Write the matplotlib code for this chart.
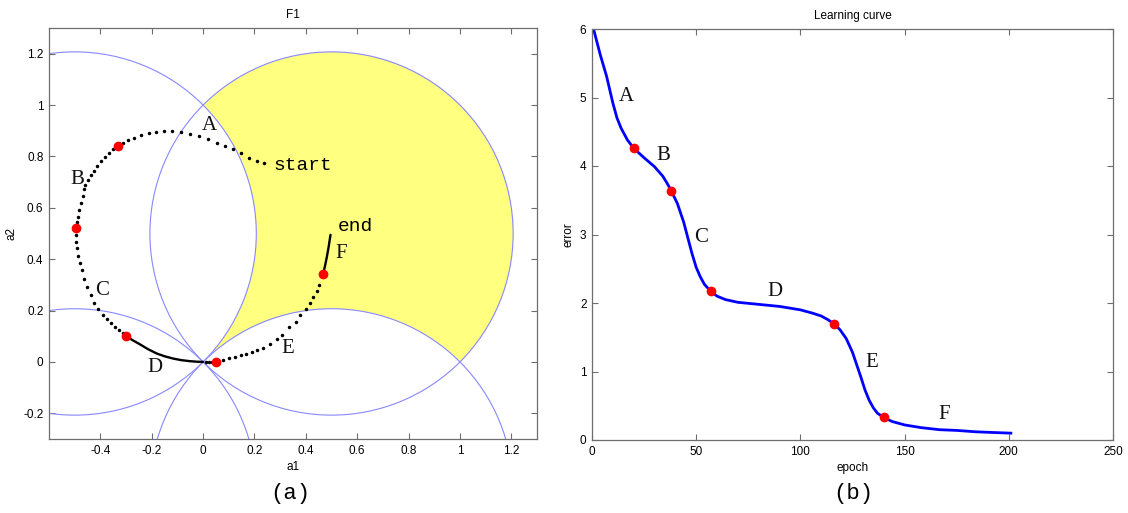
import numpy as np
import matplotlib
matplotlib.use('Agg')
import matplotlib.pyplot as plt
from matplotlib.patches import Circle

# ---- left panel: decision circles + weight trajectory ----
circle_centers = [(-0.5, 0.5), (0.5, 0.5), (-0.5, -0.5), (0.5, -0.5)]
circle_radius = 0.7071
yellow_center = (0.5, 0.5)
white_centers = [(-0.5, 0.5), (0.5, -0.5)]

# sparse dots of the trajectory (one per epoch)
traj_a = [(0.238, 0.774), (0.208, 0.782), (0.179, 0.795), (0.148, 0.812), (0.117, 0.828),
          (0.086, 0.841), (0.054, 0.854), (0.019, 0.867), (-0.016, 0.880), (-0.050, 0.888),
          (-0.085, 0.895), (-0.120, 0.900), (-0.151, 0.899), (-0.184, 0.895), (-0.212, 0.890),
          (-0.243, 0.882), (-0.268, 0.873), (-0.291, 0.864), (-0.311, 0.853)]
traj_b = [(-0.350, 0.828), (-0.365, 0.812), (-0.381, 0.797), (-0.397, 0.781), (-0.412, 0.763),
          (-0.425, 0.745), (-0.437, 0.727), (-0.448, 0.709), (-0.459, 0.690), (-0.463, 0.672),
          (-0.469, 0.646), (-0.477, 0.620), (-0.483, 0.592), (-0.488, 0.566), (-0.492, 0.543)]
traj_c = [(-0.495, 0.495), (-0.495, 0.468), (-0.492, 0.443), (-0.486, 0.413), (-0.479, 0.384),
          (-0.473, 0.356), (-0.464, 0.322), (-0.451, 0.293), (-0.438, 0.261), (-0.424, 0.231),
          (-0.408, 0.205), (-0.391, 0.183), (-0.376, 0.166), (-0.359, 0.150), (-0.343, 0.137),
          (-0.326, 0.124), (-0.313, 0.112)]
traj_d = [(-0.300, 0.101), (-0.275, 0.085), (-0.245, 0.068), (-0.215, 0.050), (-0.181, 0.033),
          (-0.150, 0.022), (-0.116, 0.013), (-0.085, 0.007), (-0.052, 0.003), (-0.025, 0.001),
          (0.0, 0.0)]
traj_d_tail = [(0.012, 0.0), (0.024, 0.0), (0.036, 0.0)]
traj_e = [(0.078, 0.008), (0.102, 0.016), (0.124, 0.021), (0.146, 0.026), (0.167, 0.031),
          (0.189, 0.038), (0.211, 0.046), (0.234, 0.056), (0.260, 0.069), (0.286, 0.089),
          (0.309, 0.105), (0.335, 0.135), (0.360, 0.156), (0.377, 0.183), (0.400, 0.205),
          (0.416, 0.229), (0.428, 0.252), (0.442, 0.277), (0.452, 0.300)]
traj_f = [(0.467, 0.343), (0.475, 0.375), (0.482, 0.410), (0.489, 0.449), (0.496, 0.495)]
red_pts_left = [(-0.330, 0.842), (-0.496, 0.521), (-0.300, 0.101), (0.052, 0.0), (0.467, 0.343)]

left_labels = ['A', 'B', 'C', 'D', 'E', 'F']
left_label_pos = [(0.024, 0.92), (-0.491, 0.711), (-0.394, 0.280), (-0.188, -0.020),
                  (0.330, 0.054), (0.538, 0.423)]
left_xticks = [-0.4, -0.2, 0, 0.2, 0.4, 0.6, 0.8, 1, 1.2]
left_xticklabels = ['-0.4', '-0.2', '0', '0.2', '0.4', '0.6', '0.8', '1', '1.2']
left_yticks = [-0.2, 0, 0.2, 0.4, 0.6, 0.8, 1, 1.2]
left_yticklabels = ['-0.2', '0', '0.2', '0.4', '0.6', '0.8', '1', '1.2']

# ---- right panel: learning curve ----
epochs = [1, 4, 7, 10, 12, 14, 17, 20, 25, 30, 34, 36, 38, 41, 44, 46, 48, 50, 52, 54, 57,
          60, 64, 70, 80, 90, 100, 106, 110, 113, 116, 119, 122, 125, 127, 129, 131, 133,
          135, 137, 140, 144, 150, 158, 167, 175, 184, 192, 201]
errors = [5.97, 5.62, 5.31, 4.92, 4.70, 4.55, 4.38, 4.26, 4.12, 3.99, 3.85, 3.75, 3.64,
          3.45, 3.18, 2.95, 2.72, 2.52, 2.38, 2.27, 2.17, 2.10, 2.05, 2.01, 1.98, 1.95, 1.90,
          1.85, 1.81, 1.76, 1.70, 1.61, 1.48, 1.28, 1.10, 0.92, 0.73, 0.58, 0.47, 0.39, 0.33,
          0.27, 0.22, 0.18, 0.15, 0.14, 0.12, 0.11, 0.10]
red_epochs = [20, 38, 57, 116, 140]
red_errors = [4.26, 3.64, 2.17, 1.70, 0.33]
right_labels = ['A', 'B', 'C', 'D', 'E', 'F']
right_label_pos = [(16.5, 5.02), (34.3, 4.16), (52.5, 2.96), (87.8, 2.17), (134.3, 1.13), (169, 0.375)]

tick_font = dict(family='Liberation Sans', size=8.5)
serif = 'Liberation Serif'
mono = 'Liberation Mono'
spine_col = '#6e6e6e'
circ_col = '#8888ff'


def style_axes(ax):
    for s in ax.spines.values():
        s.set_color(spine_col)
        s.set_linewidth(0.9)
    ax.tick_params(direction='in', length=4, width=0.8, color=spine_col,
                   top=True, right=True, labelsize=8.5, pad=4)
    for lab in ax.get_xticklabels() + ax.get_yticklabels():
        lab.set_fontfamily('Liberation Sans')


fig = plt.figure(figsize=(11.28, 5.13), dpi=100)

# left
ax1 = fig.add_axes([49 / 1128, 1 - 439 / 513, 488 / 1128, 411 / 513])
ax1.add_patch(Circle(yellow_center, circle_radius, facecolor='#ffff80', edgecolor='none', zorder=1))
for c in white_centers:
    ax1.add_patch(Circle(c, circle_radius, facecolor='white', edgecolor='none', zorder=1.5))
for c in circle_centers:
    ax1.add_patch(Circle(c, circle_radius, fill=False, edgecolor=circ_col, linewidth=0.8, zorder=2))

for seg in [traj_a, traj_b, traj_c, traj_d_tail, traj_e]:
    arr = np.array(seg)
    ax1.plot(arr[:, 0], arr[:, 1], linestyle='none', marker='o', markersize=1.5,
             color='black', zorder=3)
for seg in [traj_d, traj_f]:
    arr = np.array(seg)
    ax1.plot(arr[:, 0], arr[:, 1], color='black', linewidth=1.7, zorder=3,
             solid_capstyle='round', solid_joinstyle='round')
rp = np.array(red_pts_left)
ax1.plot(rp[:, 0], rp[:, 1], linestyle='none', marker='o', markersize=6,
         color='#ff0000', zorder=4)
for lab, (x, y) in zip(left_labels, left_label_pos):
    ax1.text(x, y, lab, family=serif, fontsize=15, ha='center', va='center', color='#111111', zorder=5)
ax1.text(0.389, 0.765, 'start', family=mono, fontsize=14, ha='center', va='center', zorder=5)
ax1.text(0.594, 0.529, 'end', family=mono, fontsize=14, ha='center', va='center', zorder=5)

ax1.set_xlim(-0.6, 1.3)
ax1.set_ylim(-0.3, 1.3)
ax1.set_xticks(left_xticks)
ax1.set_xticklabels(left_xticklabels)
ax1.set_yticks(left_yticks)
ax1.set_yticklabels(left_yticklabels)
ax1.set_title('F1', fontdict=tick_font, pad=7)
ax1.set_xlabel('a1', fontdict=tick_font, labelpad=3)
ax1.set_ylabel('a2', fontdict=tick_font, labelpad=4)
style_axes(ax1)

# right
ax2 = fig.add_axes([592 / 1128, 1 - 440 / 513, 521 / 1128, 411 / 513])
ax2.plot(epochs, errors, color='#0000ff', linewidth=2.0, zorder=2,
         solid_joinstyle='round')
ax2.plot(red_epochs, red_errors, linestyle='none', marker='o', markersize=6,
         color='#ff0000', zorder=3)
for lab, (x, y) in zip(right_labels, right_label_pos):
    ax2.text(x, y, lab, family=serif, fontsize=15, ha='center', va='center', color='#111111')
ax2.set_xlim(0, 250)
ax2.set_ylim(0, 6)
ax2.set_xticks([0, 50, 100, 150, 200, 250])
ax2.set_yticks([0, 1, 2, 3, 4, 5, 6])
ax2.set_title('Learning curve', fontdict=tick_font, pad=7)
ax2.set_xlabel('epoch', fontdict=tick_font, labelpad=3)
ax2.set_ylabel('error', fontdict=tick_font, labelpad=4)
style_axes(ax2)

fig.text(290 / 1128, 1 - 494 / 513, '(a)', family=mono, fontsize=16, ha='center', va='center')
fig.text(853 / 1128, 1 - 494 / 513, '(b)', family=mono, fontsize=16, ha='center', va='center')

fig.savefig('out.png', dpi=100)
